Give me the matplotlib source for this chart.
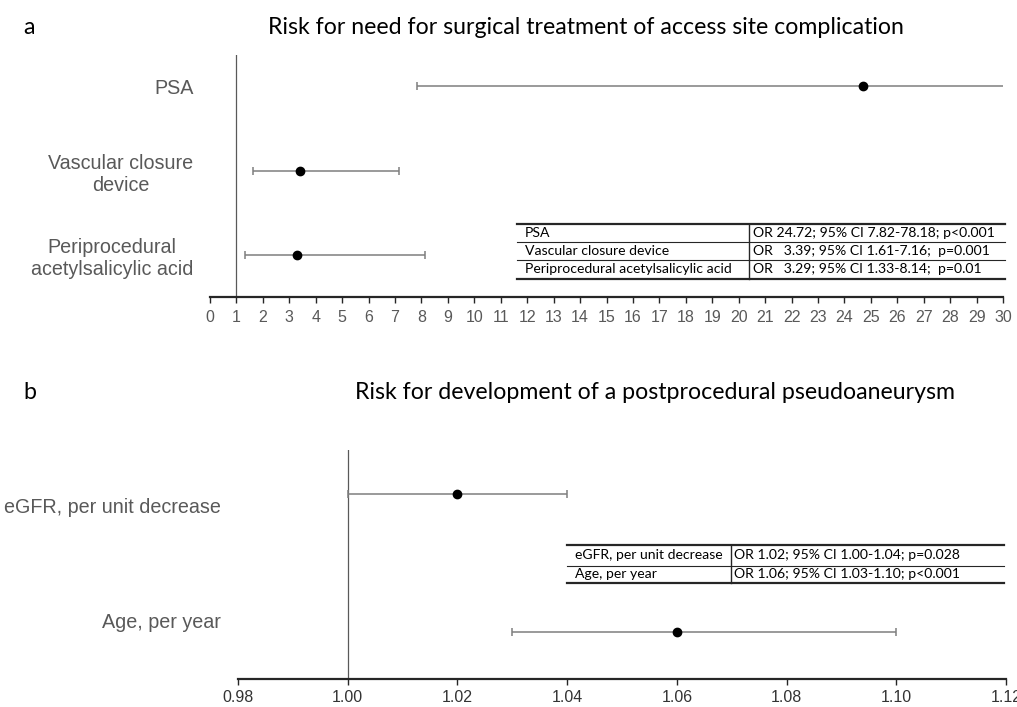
import matplotlib
matplotlib.use('Agg')
import matplotlib.pyplot as plt
from matplotlib import font_manager
from matplotlib.lines import Line2D
from matplotlib.transforms import ScaledTranslation

# ---------------- data ----------------
a_labels = ["PSA", "Vascular closure\ndevice", "Periprocedural\nacetylsalicylic acid"]
a_or = [24.72, 3.39, 3.29]
a_lo = [7.82, 1.61, 1.33]
a_hi = [78.18, 7.16, 8.14]
a_ticks = list(range(0, 31))
a_table_names = ["PSA", "Vascular closure device", "Periprocedural acetylsalicylic acid"]
a_table_stats = ["OR 24.72; 95% CI 7.82-78.18; p<0.001",
                 "OR   3.39; 95% CI 1.61-7.16;  p=0.001",
                 "OR   3.29; 95% CI 1.33-8.14;  p=0.01"]
a_title = "Risk for need for surgical treatment of access site complication"

b_labels = ["eGFR, per unit decrease", "Age, per year"]
b_or = [1.02, 1.06]
b_lo = [1.00, 1.03]
b_hi = [1.04, 1.10]
b_ticks = [0.98, 1.00, 1.02, 1.04, 1.06, 1.08, 1.10, 1.12]
b_ticklabels = ["0.98", "1.00", "1.02", "1.04", "1.06", "1.08", "1.10", "1.12"]
b_table_names = ["eGFR, per unit decrease", "Age, per year"]
b_table_stats = ["OR 1.02; 95% CI 1.00-1.04; p=0.028",
                 "OR 1.06; 95% CI 1.03-1.10; p<0.001"]
b_title = "Risk for development of a postprocedural pseudoaneurysm"

# ---------------- layout ----------------
W, H = 1017, 707
fig = plt.figure(figsize=(W / 100, H / 100), dpi=100)


def fx(px):
    return px / W


def fy(py):
    return 1 - py / H


installed = {f.name for f in font_manager.fontManager.ttflist}
narrow = 'Liberation Sans Narrow' if 'Liberation Sans Narrow' in installed else 'Liberation Sans'
SANS = 'Liberation Sans'
CAL = 'Lato'

GRAY_TXT = '#595959'
BAR = '#7f7f7f'


def make_axes(l, r, t, b):
    return fig.add_axes([fx(l), fy(b), fx(r) - fx(l), fy(t) - fy(b)])


def style(ax, xmin, xmax, ymin, ymax):
    ax.set_xlim(xmin, xmax)
    ax.set_ylim(ymin, ymax)
    for s in ['top', 'right', 'left']:
        ax.spines[s].set_visible(False)
    ax.axvline(1, color='#595959', lw=0.9, zorder=1)
    ax.spines['bottom'].set_color('#262626')
    ax.spines['bottom'].set_linewidth(1.6)
    ax.tick_params(axis='y', length=0)
    ax.tick_params(axis='x', direction='out', length=4, width=1.0, color='#262626')
    ax.patch.set_alpha(0)


# Panel a
axa = make_axes(210, 1003, 55, 297)
ya = [3, 2, 1]
style(axa, 0, 30, 0.503, 3.367)
xerr_a = [[o - l for o, l in zip(a_or, a_lo)], [h - o for o, h in zip(a_or, a_hi)]]
axa.errorbar(a_or, ya, xerr=xerr_a, fmt='o', color='black', ms=6,
             ecolor=BAR, elinewidth=1.1, capsize=3, capthick=1.1, zorder=3)
axa.set_xticks(a_ticks)
axa.set_xticklabels([str(t) for t in a_ticks], fontsize=11.5, color=GRAY_TXT,
                    fontfamily=SANS)
axa.tick_params(axis='x', pad=5)
axa.set_yticks(ya)
axa.set_yticklabels(a_labels, fontsize=14.2, color=GRAY_TXT, fontfamily=SANS,
                    multialignment='center')
axa.tick_params(axis='y', pad=12)

# Panel b
axb = make_axes(238, 1006, 450, 679)
yb = [2, 1]
style(axb, 0.98, 1.12, 0.659, 2.319)
xerr_b = [[o - l for o, l in zip(b_or, b_lo)], [h - o for o, h in zip(b_or, b_hi)]]
axb.errorbar(b_or, yb, xerr=xerr_b, fmt='o', color='black', ms=6,
             ecolor=BAR, elinewidth=1.1, capsize=3, capthick=1.1, zorder=3)
axb.set_xticks(b_ticks)
axb.set_xticklabels(b_ticklabels, fontsize=11.5, color='#333333', fontfamily=narrow)
axb.tick_params(axis='x', pad=4)
axb.set_yticks(yb)
axb.set_yticklabels(b_labels, fontsize=14.2, color=GRAY_TXT, fontfamily=SANS)
axb.tick_params(axis='y', pad=12)
for lab, dy in zip(axb.get_yticklabels(), [-8.4, 8.0]):
    lab.set_transform(lab.get_transform() + ScaledTranslation(0, dy / 72, fig.dpi_scale_trans))

# Titles and panel letters
fig.text(fx(23), fy(28), "a", fontsize=16.7, fontfamily=CAL, ha='left', va='center')
fig.text(fx(586), fy(28), a_title, fontsize=16.7, fontfamily=CAL, ha='center', va='center')
fig.text(fx(23), fy(392), "b", fontsize=16.7, fontfamily=CAL, ha='left', va='center')
fig.text(fx(655), fy(392), b_title, fontsize=16.7, fontfamily=CAL, ha='center', va='center')


# Tables
def draw_table(left, mid, right, rows_y, names, stats, fs):
    n = len(names)
    for i, y in enumerate(rows_y):
        lw = 1.6 if i in (0, n) else 0.8
        fig.add_artist(Line2D([fx(left), fx(right)], [fy(y), fy(y)], color='#262626', lw=lw))
    fig.add_artist(Line2D([fx(mid), fx(mid)], [fy(rows_y[0]), fy(rows_y[-1])], color='#262626', lw=1.0))
    for i in range(n):
        yc = (rows_y[i] + rows_y[i + 1]) / 2
        fig.text(fx(left + 8), fy(yc), names[i], fontsize=fs, fontfamily=CAL,
                 ha='left', va='center', color='black')
        fig.text(fx(mid + 4), fy(yc), stats[i], fontsize=fs, fontfamily=CAL,
                 ha='left', va='center', color='black')


draw_table(517, 749, 1005, [223.5, 242, 260, 278.5], a_table_names, a_table_stats, 10.1)
draw_table(567, 730.5, 1004, [545, 565.5, 582.5], b_table_names, b_table_stats, 10.1)

fig.savefig('out.png', dpi=100)
